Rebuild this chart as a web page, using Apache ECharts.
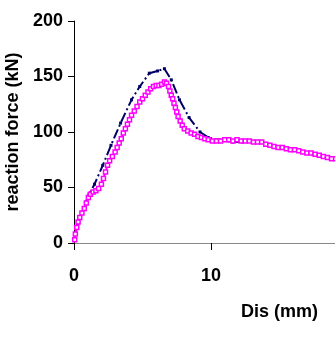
<!DOCTYPE html>
<html>
<head>
<meta charset="utf-8">
<script src="https://cdn.jsdelivr.net/npm/echarts@6/dist/echarts.min.js"></script>
<style>html,body{margin:0;padding:0;background:#fff}#c{width:335px;height:341px}</style>
</head>
<body>
<div id="c"></div>
<script>
// Series A: dark navy dash-dot curve
var seriesNavy = [
  [0.0,4],[0.3,18],[0.7,32],[1.1,44],[1.5,53],[2.1,70],[2.7,88],[3.4,108],[4.2,129],[4.8,141],
  [5.5,153],[6.1,155],[6.6,157],[7.1,147],[7.7,129],[8.4,113],[9.2,100],[9.8,95],[10.6,93],
  [11.6,91],[12.3,91],[13.2,91],[14.0,89],[15.5,85],[17.0,81],[18.5,77],[19.5,75]
];
// Series B: magenta curve with hollow square markers
var seriesMagenta = [
  [0.05,3],[0.1,8],[0.2,14],[0.3,19],[0.42,23],[0.58,27],[0.75,31],[0.9,36],[1.05,41],[1.2,44],
  [1.4,46],[1.6,47],[1.8,49],
  [2.0,53],[2.15,58],[2.3,64],[2.45,70],[2.6,74],[2.8,78],[3.0,82],[3.15,86],[3.3,90],[3.45,94],
  [3.6,99],[3.75,103],[3.9,107],[4.05,111],[4.2,115],[4.4,119],[4.6,123],[4.8,127],[5.0,130],
  [5.2,133],[5.4,136],[5.6,139],[5.8,141],[6.0,142],[6.2,142],[6.4,143],[6.6,145],[6.75,144],
  [6.9,141],[7.0,137],[7.1,133],[7.2,130],[7.3,126],[7.4,122],[7.5,118],[7.6,114],[7.75,110],
  [7.9,106],[8.05,103],[8.3,101],[8.55,99],[8.8,98],[9.05,96],[9.3,95],[9.55,94],[9.8,93],
  [10.1,92],[10.4,92],[10.7,92],[11.0,93],[11.3,93],[11.6,92],[11.9,93],[12.2,92],[12.5,92],
  [12.8,92],[13.1,91],[13.4,91],[13.7,91],[14.0,89],[14.3,88],[14.6,87],[14.9,86],[15.2,86],
  [15.5,85],[15.8,84],[16.1,84],[16.4,83],[16.7,82],[17.0,81],[17.3,81],[17.6,80],[17.9,79],
  [18.2,78],[18.5,77],[18.8,76],[19.1,76],[19.4,75],[19.7,74]
];
var xRange = [0, 20];
var xTickStep = 10;
var yRange = [0, 200];
var xName = 'Dis (mm)';
var yName = 'reaction force (kN)';

var font = 'Liberation Sans, Arial, sans-serif';
var chart = echarts.init(document.getElementById('c'), null, {renderer: 'canvas'});
chart.setOption({
  animation: false,
  grid: {left: 74, top: 21, bottom: 98, width: 274, containLabel: false, outerBoundsMode: 'none'},
  xAxis: [{
    type: 'value', min: xRange[0], max: xRange[1], interval: xTickStep, position: 'bottom',
    axisLine: {onZero: false, lineStyle: {color: '#000', width: 1}},
    axisTick: {show: true, length: 7, inside: false, lineStyle: {color: '#000'}},
    axisLabel: {color: '#000', fontSize: 18, fontWeight: 'bold', fontFamily: font, margin: 24},
    splitLine: {show: false}
  }, {
    type: 'value', min: xRange[0], max: xRange[1], position: 'top',
    axisLine: {show: true, lineStyle: {color: '#888', width: 1}},
    axisTick: {show: false}, axisLabel: {show: false}, splitLine: {show: false}
  }],
  yAxis: {
    type: 'value', min: yRange[0], max: yRange[1], interval: 50,
    name: yName, nameLocation: 'middle', nameGap: 48,
    nameTextStyle: {color: '#000', fontSize: 18, fontWeight: 'bold', fontFamily: font},
    axisLine: {show: true, lineStyle: {color: '#000', width: 1}},
    axisTick: {show: true, length: 6, lineStyle: {color: '#000'}},
    axisLabel: {color: '#000', fontSize: 18, fontWeight: 'bold', fontFamily: font, margin: 11},
    splitLine: {show: false}
  },
  graphic: [{
    type: 'text', left: 241, top: 303,
    style: {text: xName, fill: '#000', font: 'bold 18px ' + font}
  }],
  series: [{
    type: 'line', data: seriesNavy, xAxisIndex: 0,
    lineStyle: {color: '#000066', width: 2, type: [10, 3, 2, 3]},
    symbol: 'rect', symbolSize: 3, itemStyle: {color: '#000066'},
    showSymbol: true, z: 2
  }, {
    type: 'line', data: seriesMagenta, xAxisIndex: 0,
    lineStyle: {color: '#FF00FF', width: 2},
    symbol: 'rect', symbolSize: 4,
    itemStyle: {color: '#fff', borderColor: '#FF00FF', borderWidth: 1.5},
    showSymbol: true, z: 3
  }]
});
</script>
</body>
</html>
